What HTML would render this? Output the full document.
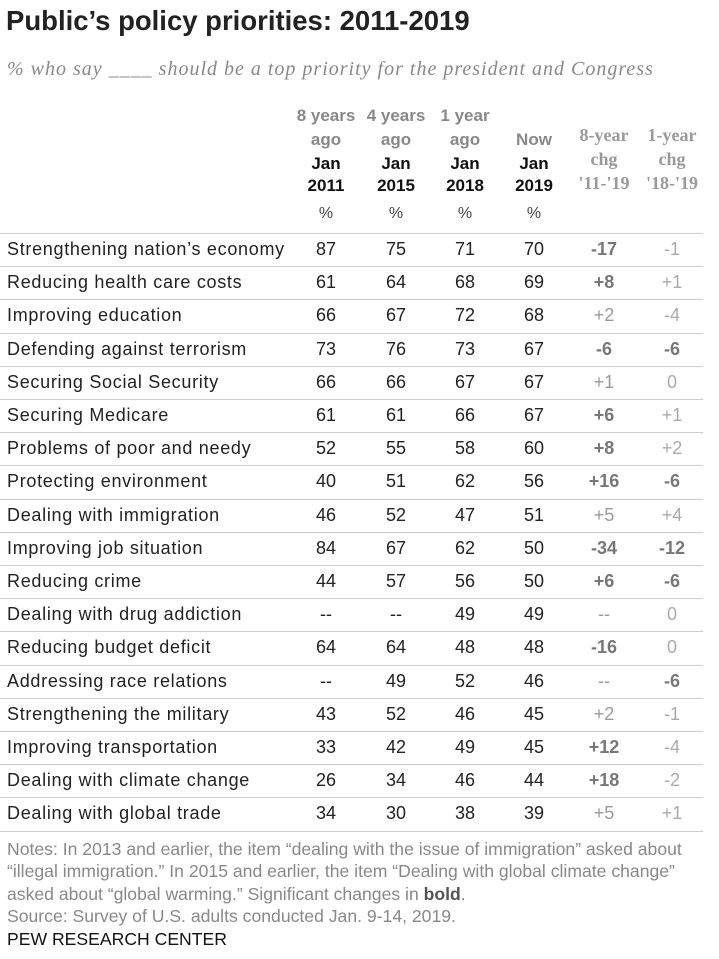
<!DOCTYPE html>
<html><head><meta charset="utf-8"><style>
body{margin:0;width:719px;height:959px;background:#fff;position:relative;overflow:hidden;font-family:"Liberation Sans",sans-serif}
.a{position:absolute;white-space:nowrap}
.h{font-weight:bold;font-size:17px;text-align:center;transform:translateX(-50%)}
.c{font-size:18px;text-align:center;transform:translateX(-50%);color:#222}
.n{font-family:"Liberation Sans Narrow","Liberation Sans",sans-serif;font-size:17.6px;color:#888;left:7px}
</style></head><body>
<div class="a" style="left:6px;top:5px;font-size:27.5px;font-weight:bold;color:#222">Public’s policy priorities: 2011-2019</div>
<div class="a" style="left:7px;top:58px;font-family:'Liberation Serif',serif;font-style:italic;font-size:20px;letter-spacing:1px;color:#888">% who say ____ should be a top priority for the president and Congress</div>
<div id="tbl"></div>
<div class="a n" style="top:839px">Notes: In 2013 and earlier, the item “dealing with the issue of immigration” asked about</div>
<div class="a n" style="top:861px">“illegal immigration.” In 2015 and earlier, the item “Dealing with global climate change”</div>
<div class="a n" style="top:884px">asked about “global warming.” Significant changes in <b style="color:#555">bold</b>.</div>
<div class="a n" style="top:906px">Source: Survey of U.S. adults conducted Jan. 9-14, 2019.</div>
<div class="a n" style="top:929px;color:#111">PEW RESEARCH CENTER</div>
<script>
const items=["Strengthening nation’s economy","Reducing health care costs","Improving education","Defending against terrorism","Securing Social Security","Securing Medicare","Problems of poor and needy","Protecting environment","Dealing with immigration","Improving job situation","Reducing crime","Dealing with drug addiction","Reducing budget deficit","Addressing race relations","Strengthening the military","Improving transportation","Dealing with climate change","Dealing with global trade"];
const y2011=["87","61","66","73","66","61","52","40","46","84","44","--","64","--","43","33","26","34"];
const y2015=["75","64","67","76","66","61","55","51","52","67","57","--","64","49","52","42","34","30"];
const y2018=["71","68","72","73","67","66","58","62","47","62","56","49","48","52","46","49","46","38"];
const y2019=["70","69","68","67","67","67","60","56","51","50","50","49","48","46","45","45","44","39"];
const chg8=["-17","+8","+2","-6","+1","+6","+8","+16","+5","-34","+6","--","-16","--","+2","+12","+18","+5"];
const sig8=[1,1,0,1,0,1,1,1,0,1,1,0,1,0,0,1,1,0];
const chg1=["-1","+1","-4","-6","0","+1","+2","-6","+4","-12","-6","0","0","-6","-1","-4","-2","+1"];
const sig1=[0,0,0,1,0,0,0,1,0,1,1,0,0,1,0,0,0,0];
const colX=[326,396,465,534,604,672];
const t=document.getElementById('tbl');
function add(html,cls,x,y,style,name){const d=document.createElement('div');d.className='a '+cls;d.style.left=x+'px';d.style.top=y+'px';if(style)d.style.cssText+=style;d.innerHTML=html;


t.appendChild(d);}
const hdr=[["8 years","ago","Jan","2011"],["4 years","ago","Jan","2015"],["1 year","ago","Jan","2018"],["","Now","Jan","2019"]];
hdr.forEach((h,i)=>{add(h[0],'h',colX[i],106,'color:#888','header-ago-'+i);add(h[1],'h',colX[i],130,'color:#888','header-ago2-'+i);add(h[2],'h',colX[i],154,'color:#111','header-jan-'+i);add(h[3],'h',colX[i],176,'color:#111','header-year-'+i);add('%','c',colX[i],205,'font-size:16px;color:#444','header-pct-'+i);});
[["8-year","chg","'11-'19"],["1-year","chg","'18-'19"]].forEach((h,j)=>{h.forEach((s,k)=>add(s,'h',colX[4+j],125+k*24,'color:#999;font-family:"Liberation Serif",serif;font-size:18px','header-chg-'+j+'-'+k));});
const y0=233,rh=33.2;
const line=(y,n)=>{const d=document.createElement('div');d.className='a';d.style.cssText=`left:0;top:${y}px;width:703px;height:1px;background:#ccc`;


t.appendChild(d);};
line(y0,'header-rule');
items.forEach((it,i)=>{const y=y0+i*rh+6;
add(it,'',7,y,'font-size:18px;letter-spacing:0.7px;color:#222','row-label');
[y2011,y2015,y2018,y2019].forEach((arr,j)=>add(arr[i],'c',colX[j],y,'','value-cell'));
add(chg8[i],'c',colX[4],y,sig8[i]?'font-weight:bold;color:#777':'color:#999','chg-8yr');
add(chg1[i],'c',colX[5],y,sig1[i]?'font-weight:bold;color:#777':'color:#aaa','chg-1yr');
line(Math.round(y0+(i+1)*rh),'row-rule');});
</script>
</body></html>
